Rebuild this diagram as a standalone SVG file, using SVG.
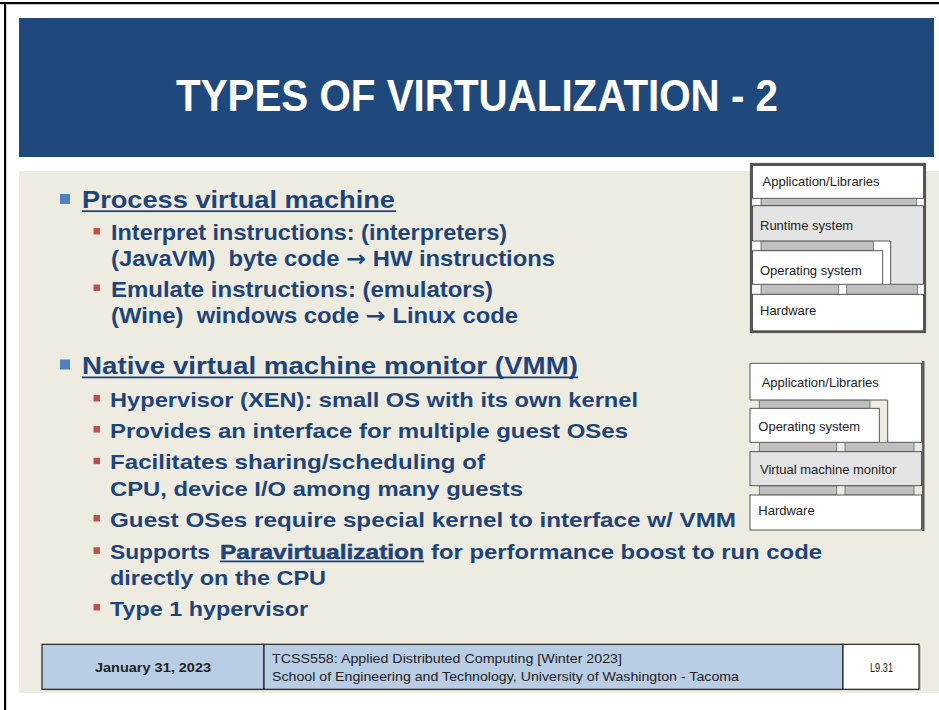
<svg xmlns="http://www.w3.org/2000/svg" width="939" height="710" viewBox="0 0 939 710">
<style>
.b1{font-family:"Liberation Sans",Arial,sans-serif;font-weight:bold;font-size:24px;fill:#1F4479;white-space:pre}
.b2{font-family:"Liberation Sans",Arial,sans-serif;font-weight:bold;font-size:22px;fill:#1F4479;white-space:pre}
.b3{font-family:"Liberation Sans",Arial,sans-serif;font-weight:bold;font-size:21px;fill:#1F4479;white-space:pre}
.ar{font-family:"DejaVu Sans",sans-serif;font-size:22px}
.ul{fill:#1F4479}
.bl{fill:#4F81BD}
.rd{fill:#C0504D}
.ft{font-family:"Liberation Sans",Arial,sans-serif;font-size:12.5px;fill:#222}
.lbl{font-family:"Liberation Sans",Arial,sans-serif;font-size:13px;fill:#222}
.wbox{fill:#fff;stroke:#444;stroke-width:0.9}
.gbox{fill:#E4E4E4;stroke:#444;stroke-width:0.9}
.bar{fill:#C0C0C0;stroke:#666;stroke-width:0.8}
</style>
<rect x="0" y="0" width="939" height="710" fill="#fff"/>
<rect x="0" y="2" width="939" height="2.2" fill="#000"/>
<rect x="4" y="2" width="2.2" height="708" fill="#000"/>
<g id="title">
<rect x="19" y="18" width="915" height="139" fill="#1F497D"/>
<text x="176" y="111" font-family="'Liberation Sans',Arial,sans-serif" font-weight="bold" font-size="45" fill="#fff" textLength="602" lengthAdjust="spacingAndGlyphs">TYPES OF VIRTUALIZATION - 2</text>
</g>
<rect id="content" x="19" y="171" width="920" height="522" fill="#EEECE1"/>
<g id="section1">
<rect class="bl" x="60" y="194" width="10" height="10"/>
<text class="b1" x="82" y="208" textLength="313" lengthAdjust="spacingAndGlyphs">Process virtual machine</text>
<rect class="ul" x="82" y="210.3" width="314" height="1.8"/>
<rect class="rd" x="93.5" y="228" width="6.5" height="6.5"/>
<text class="b2" x="111" y="240" textLength="396" lengthAdjust="spacingAndGlyphs">Interpret instructions: (interpreters)</text>
<text class="b2" x="111" y="266" textLength="444" lengthAdjust="spacingAndGlyphs">(JavaVM)  byte code <tspan class="ar">→</tspan> HW instructions</text>
<rect class="rd" x="93.5" y="284.5" width="6.5" height="6.5"/>
<text class="b2" x="111" y="296.5" textLength="382" lengthAdjust="spacingAndGlyphs">Emulate instructions: (emulators)</text>
<text class="b2" x="111" y="322.5" textLength="407" lengthAdjust="spacingAndGlyphs">(Wine)  windows code <tspan class="ar">→</tspan> Linux code</text>
</g>
<g id="section2">
<rect class="bl" x="60" y="359.5" width="10" height="10"/>
<text class="b1" x="82" y="374" textLength="496" lengthAdjust="spacingAndGlyphs">Native virtual machine monitor (VMM)</text>
<rect class="ul" x="82" y="376.5" width="496" height="1.8"/>
<rect class="rd" x="93.5" y="395" width="6.5" height="6.5"/>
<text class="b3" x="110" y="406.5" textLength="528" lengthAdjust="spacingAndGlyphs">Hypervisor (XEN): small OS with its own kernel</text>
<rect class="rd" x="93.5" y="426" width="6.5" height="6.5"/>
<text class="b3" x="110" y="437.5" textLength="518" lengthAdjust="spacingAndGlyphs">Provides an interface for multiple guest OSes</text>
<rect class="rd" x="93.5" y="457.7" width="6.5" height="6.5"/>
<text class="b3" x="110" y="469" textLength="375" lengthAdjust="spacingAndGlyphs">Facilitates sharing/scheduling of</text>
<text class="b3" x="110" y="495.5" textLength="413" lengthAdjust="spacingAndGlyphs">CPU, device I/O among many guests</text>
<rect class="rd" x="93.5" y="515" width="6.5" height="6.5"/>
<text class="b3" x="110" y="526.5" textLength="626" lengthAdjust="spacingAndGlyphs">Guest OSes require special kernel to interface w/ VMM</text>
<rect class="rd" x="93.5" y="547.3" width="6.5" height="6.5"/>
<text class="b3" x="110" y="558.5" textLength="100" lengthAdjust="spacingAndGlyphs">Supports</text>
<text class="b3" x="220" y="558.5" textLength="204" lengthAdjust="spacingAndGlyphs" stroke="#1F4479" stroke-width="0.5">Paravirtualization</text>
<rect class="ul" x="220" y="560.5" width="204" height="1.8"/>
<text class="b3" x="431" y="558.5" textLength="391" lengthAdjust="spacingAndGlyphs">for performance boost to run code</text>
<text class="b3" x="110" y="585" textLength="216" lengthAdjust="spacingAndGlyphs">directly on the CPU</text>
<rect class="rd" x="93.5" y="604" width="6.5" height="6.5"/>
<text class="b3" x="110" y="616" textLength="198" lengthAdjust="spacingAndGlyphs">Type 1 hypervisor</text>
</g>
<g id="figure1">
<rect x="751" y="164" width="174" height="168" fill="#fff" stroke="#555" stroke-width="2.2"/>
<rect class="wbox" x="752.5" y="165.5" width="171" height="32.8"/>
<text class="lbl" x="762.5" y="186">Application/Libraries</text>
<rect class="bar" x="761" y="198.5" width="155.7" height="7.2"/>
<path class="gbox" d="M752.5,205.7 H923.5 V284.3 H890.7 V241 H752.5 Z"/>
<text class="lbl" x="760" y="230">Runtime system</text>
<rect class="bar" x="761" y="241.3" width="112.3" height="9.4"/>
<rect class="wbox" x="752.5" y="250.7" width="130.2" height="33.6"/>
<text class="lbl" x="760" y="275">Operating system</text>
<rect class="bar" x="761" y="284.6" width="77.7" height="9.7"/>
<rect class="bar" x="846.7" y="284.6" width="70.6" height="9.7"/>
<rect class="wbox" x="752.5" y="294.3" width="171" height="36.5"/>
<text class="lbl" x="760" y="315">Hardware</text>
</g>
<g id="figure2">
<path class="wbox" d="M750,363.3 H921.5 V442.3 H887.7 V400 H750 Z"/>
<text class="lbl" x="761.7" y="386.5">Application/Libraries</text>
<rect class="bar" x="759.3" y="400.3" width="110.7" height="8"/>
<rect class="wbox" x="750" y="408.3" width="129.3" height="34"/>
<text class="lbl" x="758.3" y="431">Operating system</text>
<rect class="bar" x="759.3" y="442.6" width="77.4" height="9.1"/>
<rect class="bar" x="845" y="442.6" width="69" height="9.1"/>
<rect class="gbox" x="750" y="451.7" width="171.5" height="34"/>
<text class="lbl" x="760" y="474">Virtual machine monitor</text>
<rect class="bar" x="759.3" y="486" width="77.4" height="9"/>
<rect class="bar" x="845" y="486" width="69" height="9"/>
<rect class="wbox" x="750" y="495" width="171.5" height="35"/>
<text class="lbl" x="758.3" y="515">Hardware</text>
<line x1="923.3" y1="361" x2="923.3" y2="531" stroke="#555" stroke-width="2.4"/>
</g>
<g id="footer">
<rect x="43" y="645.5" width="878" height="45" fill="#888" opacity="0.35"/>
<rect x="42" y="644.3" width="222" height="45" fill="#B9CDE5" stroke="#222" stroke-width="1.2"/>
<rect x="264" y="644.3" width="579" height="45" fill="#B9CDE5" stroke="#222" stroke-width="1.2"/>
<rect x="843" y="644.3" width="76" height="45" fill="#fff" stroke="#222" stroke-width="1.2"/>
<text class="ft" x="95" y="672" font-weight="bold" textLength="116" lengthAdjust="spacingAndGlyphs">January 31, 2023</text>
<text class="ft" x="272" y="662.5" textLength="350" lengthAdjust="spacingAndGlyphs">TCSS558: Applied Distributed Computing [Winter 2023]</text>
<text class="ft" x="272" y="681" textLength="467" lengthAdjust="spacingAndGlyphs">School of Engineering and Technology, University of Washington - Tacoma</text>
<text class="ft" x="870" y="672" font-size="11" textLength="23" lengthAdjust="spacingAndGlyphs">L9.31</text>
</g>
</svg>
